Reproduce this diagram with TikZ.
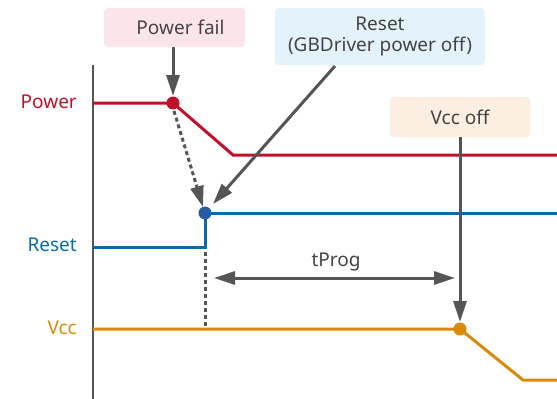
\documentclass[tikz,border=0pt]{standalone}
\usepackage{fontspec}
\setmainfont{Noto Sans}
\usetikzlibrary{arrows.meta}
\definecolor{pred}{HTML}{C0102A}
\definecolor{rblue}{HTML}{0A6AAE}
\definecolor{vorange}{HTML}{D98A0A}
\definecolor{dotblue}{HTML}{2A5AA0}
\definecolor{agray}{HTML}{555555}
\definecolor{tgray}{HTML}{444444}
\definecolor{pinkbox}{HTML}{FBE5EA}
\definecolor{bluebox}{HTML}{E3F2FB}
\definecolor{orangebox}{HTML}{FCEEE0}
\begin{document}
\begin{tikzpicture}[x=1pt,y=-1pt,
  txt/.style={font=\fontsize{19}{21}\selectfont},
  lbl/.style={txt, anchor=east, inner sep=0pt},
  callout/.style={txt, rounded corners=4pt, inner sep=0pt, text=tgray, align=center},
  sig/.style={line width=3pt},
  tip/.style={-{Triangle[length=21pt,width=13pt]}},
  pointer/.style={agray, line width=3pt, tip},
  dotcirc/.style={circle, inner sep=0pt, minimum size=13pt}
]
\useasboundingbox (0,0) rectangle (557,399);
% axis
\coordinate (axtop) at (93,65);
\coordinate (axbot) at (93,399);
\draw[line width=1.6pt, agray] (axtop) -- (axbot);
% labels
\node[lbl, text=pred] (lpow) at (77,102) {Power};
\node[lbl, text=rblue] (lres) at (77,245) {Reset};
\node[lbl, text=vorange] (lvcc) at (77,328) {Vcc};
% dots
\node[dotcirc] (pdot) at (173,103) {};
\node[dotcirc] (rdot) at (205,213) {};
\node[dotcirc] (vdot) at (460,329) {};
% power signal
\coordinate (p0) at (93,103);
\coordinate (p1) at (233,155);
\coordinate (p2) at (557,155);
\draw[sig, pred] (p0) -- (pdot.center) -- (p1) -- (p2);
% reset signal
\coordinate (r0) at (93,247);
\coordinate (r1) at (205,247);
\coordinate (r2) at (557,213);
\draw[sig, rblue] (r0) -- (r1) -- (rdot.center) -- (r2);
% vcc signal
\coordinate (v0) at (93,329);
\coordinate (v1) at (523,380);
\coordinate (v2) at (557,380);
\draw[sig, vorange] (v0) -- (vdot.center) -- (v1) -- (v2);
\fill[pred] (pdot) circle (6.5pt);
\fill[dotblue] (rdot) circle (6.5pt);
\fill[vorange] (vdot) circle (6.5pt);
% dotted lines
\coordinate (dtop) at (205,252);
\coordinate (dbot) at (205,329);
\draw[agray, line width=3pt, dash pattern=on 4pt off 3pt] (dtop) -- (dbot);
\coordinate (rtip) at (203,207);
\draw[agray, line width=3pt, dash pattern=on 4pt off 3pt, tip] (174,111) -- (rtip);
% callouts
\node[callout, fill=pinkbox, minimum width=141pt, minimum height=39pt] (pf) at (174.5,27.5) {\hspace{12pt}Power fail};
\node[callout, fill=bluebox, minimum width=210pt, minimum height=57pt] (rs) at (380,36.5) {Reset\\(GBDriver power off)};
\node[callout, fill=orangebox, minimum width=140pt, minimum height=40pt] (vo) at (460,117) {Vcc off};
% pointers
\draw[pointer] (pf.south -| pdot) -- (173,96);
\coordinate (rsfoot) at (335,66);
\draw[pointer] (rsfoot) -- (213,204);
\draw[pointer] (vo.south -| vdot) -- (460,322);
% tProg
\coordinate (ta) at (214,278);
\coordinate (tb) at (455,278);
\draw[agray, line width=3pt, {Triangle[length=21pt,width=13pt]}-{Triangle[length=21pt,width=13pt]}] (ta) -- (tb);
\node[txt, text=tgray] (tp) at (336,262) {tProg};
\end{tikzpicture}
\end{document}
